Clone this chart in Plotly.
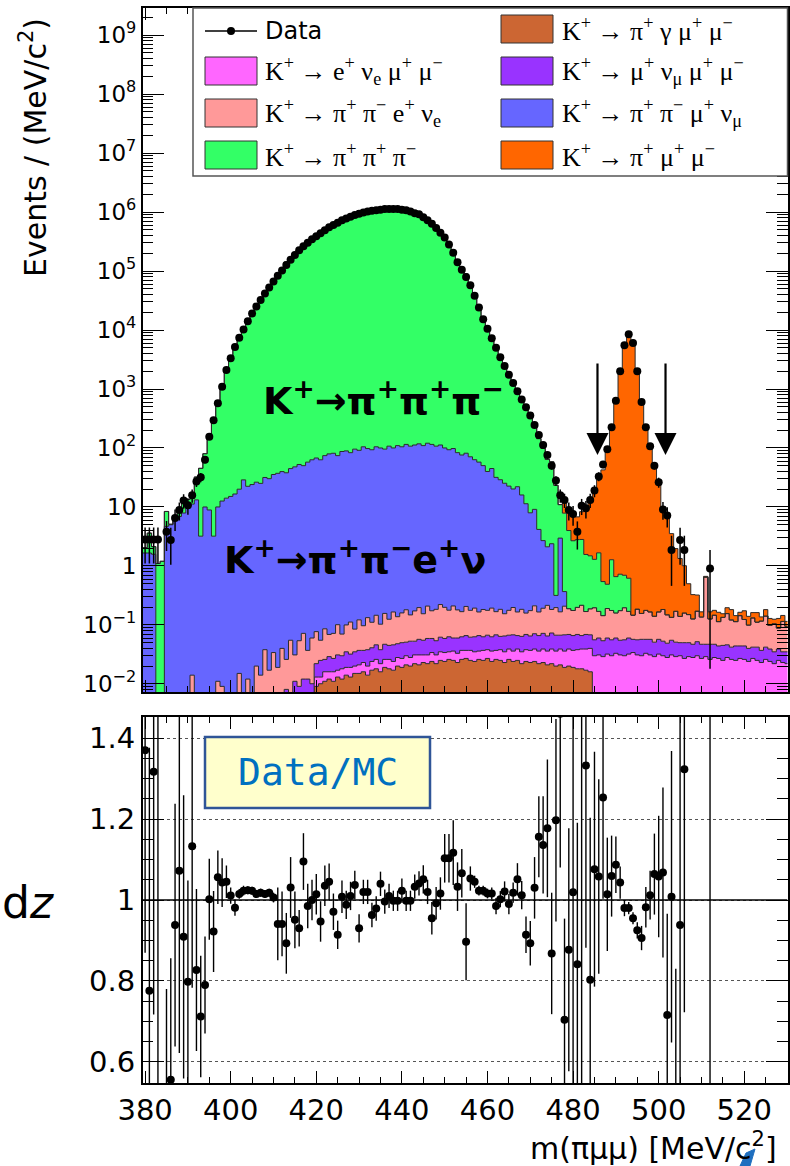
import plotly.graph_objects as go

W, H = 790, 1166

# ---------------- data (bin centres 380..530 MeV, 1 MeV bins) ----------------
centers = list(range(380, 531))

brown = [  # K+ -> pi+ gamma mu+ mu-
    0, 0, 0, 0, 0, 0, 0, 0, 0, 0,
    0, 0, 0, 0, 0, 0, 0, 0, 0, 0,
    0, 0, 0, 0, 0, 0, 0, 0, 0, 0,
    0, 0, 0, 0, 0, 0, 0, 0, 0, 0,
    .009, .010, .011, .012, .011, .013, .012, .014, .013, .015,
    .015, .016, .014, .017, .018, .016, .019, .018, .017, .020,
    .019, .021, .020, .022, .021, .023, .022, .024, .022, .025,
    .024, .026, .025, .023, .026, .027, .025, .024, .026, .025,
    .027, .024, .026, .025, .023, .026, .024, .025, .022, .024,
    .023, .024, .022, .023, .021, .022, .020, .021, .019, .020,
    .019, .018, .018, .017, .016, 0, 0, 0, 0, 0,
    0, 0, 0, 0, 0, 0, 0, 0, 0, 0,
    0, 0, 0, 0, 0, 0, 0, 0, 0, 0,
    0, 0, 0, 0, 0, 0, 0, 0, 0, 0,
    0, 0, 0, 0, 0, 0, 0, 0, 0, 0, 0,
]
magenta = [  # K+ -> e+ nu_e mu+ mu-
    0, 0, 0, 0, 0, 0, 0, 0, 0, 0,
    0, 0, 0, 0, 0, 0, 0, 0, 0, 0,
    0, 0, 0, 0, 0, 0, 0, 0, 0, 0,
    0, 0, 0, 0, 0, .002, .003, .002, .004, .003,
    .004, .003, .005, .004, .005, .004, .006, .005, .006, .005,
    .006, .007, .006, .007, .008, .006, .007, .008, .007, .008,
    .008, .009, .008, .009, .010, .008, .009, .010, .009, .010,
    .010, .009, .011, .010, .011, .010, .012, .011, .010, .012,
    .011, .012, .011, .013, .012, .013, .012, .014, .013, .014,
    .014, .015, .014, .016, .015, .017, .016, .018, .017, .019,
    .018, .020, .021, .022, .024, .030, .031, .029, .032, .030,
    .033, .031, .030, .032, .034, .031, .030, .033, .031, .029,
    .032, .030, .028, .031, .029, .030, .027, .029, .028, .030,
    .027, .029, .026, .028, .027, .025, .028, .026, .025, .027,
    .026, .024, .027, .025, .023, .026, .024, .022, .025, .023, .022,
]
purple = [  # K+ -> mu+ nu_mu mu+ mu-
    0, 0, 0, 0, 0, 0, 0, 0, 0, 0,
    0, 0, 0, 0, 0, 0, 0, 0, 0, 0,
    0, 0, 0, 0, 0, .004, 0, .006, .003, .005,
    .004, .007, 0, .008, .005, .009, .006, .010, .008, .007,
    .009, .012, .010, .013, .011, .014, .012, .016, .013, .015,
    .016, .014, .018, .017, .020, .016, .021, .019, .022, .020,
    .023, .021, .025, .022, .026, .024, .028, .025, .023, .027,
    .025, .028, .024, .027, .026, .029, .025, .028, .030, .026,
    .029, .027, .031, .026, .030, .028, .032, .027, .029, .031,
    .028, .032, .030, .033, .029, .034, .031, .028, .032, .030,
    .029, .031, .027, .030, .028, .026, .029, .025, .028, .026,
    .027, .024, .026, .028, .023, .025, .027, .024, .026, .022,
    .025, .023, .021, .024, .022, .020, .023, .021, .019, .022,
    .020, .018, .021, .019, .017, .020, .018, .016, .019, .017,
    .018, .016, .015, .017, .014, .016, .015, .013, .014, .012, .013,
]
pink = [  # K+ -> pi+ pi- e+ nu_e
    0, 0, 0, 0, 0, 0, 0, 0, 0, 0,
    0, .014, 0, 0, 0, 0, 0, .011, .009, 0,
    0, 0, .015, 0, .012, 0, .020, .008, .035, .012,
    .03, .012, .04, .018, .05, .02, .045, .06, .025, .05,
    .055, .03, .06, .04, .045, .07, .04, .065, .08, .05,
    .085, .06, .095, .07, .10, .065, .11, .08, .12, .09,
    .11, .13, .095, .12, .14, .10, .15, .115, .13, .16,
    .14, .115, .15, .12, .105, .14, .115, .13, .10, .12,
    .11, .13, .10, .12, .09, .11, .13, .10, .12, .09,
    .11, .14, .10, .12, .15, .11, .13, .10, .14, .12,
    .11, .13, .15, .10, .12, .14, .11, .09, .13, .12,
    .10, .12, .14, .11, .09, .13, .10, .12, .11, .09,
    .11, .13, .10, .08, .12, .09, .11, .10, .08, .12,
    .09, .60, .08, .10, .07, .09, .11, .08, .07, .10,
    .08, .06, .09, .07, .08, .10, .06, .07, .05, .08, .06,
]
blue = [  # K+ -> pi+ pi- mu+ nu_mu
    1.66, 1.66, 1.58, 0, 0, 4.7, 5.0, 6.0, 6.9, 7.9,
    9.5, 11.2, 13.2, 3.2, 10.0, 8.9, 3.2, 10.0, 12.6, 14.1,
    15.1, 16.6, 20.0, 28.8, 22.4, 24.0, 26.3, 25.1, 31.6, 30.2,
    35.5, 37.2, 39.8, 38.0, 44.7, 47.9, 52.5, 50.1, 57.5, 63.1,
    67.6, 63.1, 74.1, 79.4, 81.3, 74.1, 87.1, 89.1, 83.2, 95.5,
    91.2, 104.7, 97.7, 93.3, 104.7, 100, 95.5, 107.2, 100, 109.6,
    104.7, 114.8, 107.2, 112.2, 117.5, 109.6, 120.2, 114.8, 107.2, 112.2,
    100, 93.3, 97.7, 83.2, 75.9, 81.3, 70.8, 63.1, 57.5, 50.1,
    39.8, 44.7, 31.6, 28.8, 25.1, 22.4, 20.0, 21.9, 15.8, 11.2,
    7.8, 8.9, 4.0, 2.5, 1.9, 2.2, 0.12, 2.8, 0.16, 0,
    0, 0, 0, 0, 0, 0, 0, 0, 0, 0,
    0, 0, 0, 0, 0, 0, 0, 0, 0, 0,
    0, 0, 0, 0, 0, 0, 0, 0, 0, 0,
    0, 0, 0, 0, 0, 0, 0, 0, 0, 0,
    0, 0, 0, 0, 0, 0, 0, 0, 0, 0, 0,
]
green = [  # K+ -> pi+ pi+ pi-
    0.38, 1.95, 0.55, 1.1, 1.2, 3.7, 0.1, 0.9, 1.4, 6.3,
    3.9, 2.8, 19, 42, 70, 146, 317, 535, 1038, 1985,
    3260, 5210, 7280, 9970, 13770, 18600, 24720, 31760, 41040, 51520,
    65640, 88350, 108710, 140940, 150180, 195760, 240670, 240160, 306540, 346670,
    383610, 460880, 473140, 525800, 620470, 722790, 718600, 785590, 823450, 859360,
    1003400, 957970, 1003130, 1087270, 1094400, 1054210, 1126430, 1110800, 1124170, 1124160,
    1071720, 1073550, 1025240, 924370, 875960, 773280, 710110, 660570, 541260, 439540,
    336740, 255430, 182690, 136660, 98150, 88470, 54580, 36320, 23390, 14750,
    10270, 7090, 5060, 3430, 2380, 1730, 1220, 846, 637, 525,
    389, 229, 140, 96, 62, 56, 23, 8, 7.5, 3.8,
    2.5, 2.6, 2.6, 1.4, 1.3, 1.1, 1.5, 0.4, 0.3, 1.1,
    0.5, 0.55, 0.5, 0.45, 0, 0, 0, 0, 0, 0,
    0, 0, 0, 0, 0, 0, 0, 0, 0, 0,
    0, 0, 0, 0, 0, 0, 0, 0, 0, 0,
    0, 0, 0, 0, 0, 0, 0, 0, 0, 0, 0,
]
orange = [  # K+ -> pi+ mu+ mu-
    0, 0, 0, 0, 0, 0, 0, 0, 0, 0,
    0, 0, 0, 0, 0, 0, 0, 0, 0, 0,
    0, 0, 0, 0, 0, 0, 0, 0, 0, 0,
    0, 0, 0, 0, 0, 0, 0, 0, 0, 0,
    0, 0, 0, 0, 0, 0, 0, 0, 0, 0,
    0, 0, 0, 0, 0, 0, 0, 0, 0, 0,
    0, 0, 0, 0, 0, 0, 0, 0, 0, 0,
    0, 0, 0, 0, 0, 0, 0, 0, 0, 0,
    0, 0, 0, 0, 0, 0, 0, 0, 0, 0,
    0, 0, 0, 0, 0, 0, 0, 0, 4, 4.5,
    4.5, 4.0, 5.5, 7, 11, 16, 27, 42, 92, 210,
    580, 1900, 5600, 8700, 6300, 2150, 660, 228, 106, 47,
    25, 10, 7, 3.4, 1.8, 1.2, 0.85, 0.35, 0.2, 0.15,
    0.03, .02, .04, .03, .05, .02, .04, .06, .03, .02,
    .05, .04, .03, .05, .02, .04, .03, .02, .04, .03, .02,
]
data = [
    2.8, 2.8, 2.8, 2.8, None, 3.8, 2.75, 6.5, 8.9, 12.9,
    10.7, 15.8, 27, 32, 63, 155, 295, 575, 1096, 2089,
    3311, 5129, 7413, 10230, 14130, 19050, 25120, 32360, 41690, 52480,
    66070, 83180, 102300, 125900, 154900, 186200, 223900, 263000, 302000, 346700,
    389000, 436500, 489800, 549500, 602600, 660700, 724400, 776200, 831800, 891300,
    933300, 977200, 1023000, 1047000, 1072000, 1096000, 1122000, 1122000, 1122000, 1122000,
    1096000, 1072000, 1023000, 955000, 912000, 812800, 724400, 631000, 537000, 446700,
    371500, 281800, 204200, 141300, 104700, 79430, 57540, 38020, 23990, 15140,
    10470, 7244, 5012, 3467, 2455, 1738, 1259, 912, 661, 490,
    355, 245, 166, 112, 76, 50, 28, 15.8, 13.2, 8.9,
    7.6, 3.8, 10.5, 9.5, 13.2, 19, 33, 52.5, 95.5, 224,
    631, 1995, 5495, 8511, 6026, 1995, 603, 224, 107, 50,
    26.3, 9.1, 7.2, 1.86, None, 2.75, 1.86, None, None, None,
    None, None, 0.91, None, None, None, None, None, None, None,
    None, None, None, None, None, None, None, None, None, None, None,
]
data_err = [
    1.7, 1.7, 1.7, 1.7, 0, 2.0, 1.7, 2.6, 3.0, 3.6,
    3.3, 4.0, 5.2, 5.7, 8, 12, 17, 24, 33, 46,
    0, 0, 0, 0, 0, 0, 0, 0, 0, 0,
    0, 0, 0, 0, 0, 0, 0, 0, 0, 0,
    0, 0, 0, 0, 0, 0, 0, 0, 0, 0,
    0, 0, 0, 0, 0, 0, 0, 0, 0, 0,
    0, 0, 0, 0, 0, 0, 0, 0, 0, 0,
    0, 0, 0, 0, 0, 0, 0, 0, 0, 0,
    0, 0, 0, 0, 0, 0, 0, 0, 0, 0,
    19, 16, 13, 11, 9, 7, 5.3, 4.0, 3.6, 3.0,
    2.8, 1.9, 3.2, 3.1, 3.6, 4.4, 5.7, 7.2, 9.8, 15,
    25, 45, 74, 92, 78, 45, 25, 15, 10, 7,
    5.1, 3.0, 2.7, 1.4, 0, 1.7, 1.4, 0, 0, 0,
    0, 0, 0.95, 0, 0, 0, 0, 0, 0, 0,
    0, 0, 0, 0, 0, 0, 0, 0, 0, 0, 0,
]
ratio = [
    1.37, 0.776, 1.317, 2.5, None, 0.45, 0.556, 0.938, 1.072, 0.909,
    0.798, 1.133, 0.827, 0.712, 0.79, 1.002, 0.922, 1.056, 1.043, 1.045,
    1.011, 0.981, 1.015, 1.023, 1.024, 1.023, 1.015, 1.018, 1.015, 1.018,
    1.006, 0.941, 0.941, 0.893, 1.031, 0.951, 0.93, 1.095, 0.985, 1.0,
    1.014, 0.947, 1.035, 1.045, 0.971, 0.914, 1.008, 0.988, 1.010, 1.037,
    0.930, 1.02, 1.02, 0.963, 0.979, 1.04, 0.996, 1.01, 0.998, 0.998,
    1.023, 0.998, 0.998, 1.033, 1.041, 1.051, 1.02, 0.955, 0.992, 1.016,
    1.103, 1.103, 1.117, 1.033, 1.066, 0.897, 1.053, 1.045, 1.023, 1.023,
    1.016, 1.016, 0.985, 1.002, 1.021, 0.99, 1.018, 1.051, 1.012, 0.914,
    0.893, 1.03, 1.156, 1.136, 1.177, 0.868, 1.197, 1.46, 0.704, 0.877,
    1.019, 0.841, 1.9, 1.332, 0.803, 1.076, 1.058, 1.253, 1.014, 1.059,
    1.087, 1.043, 0.98, 0.98, 0.955, 0.925, 0.906, 0.982, 1.012, 1.064,
    1.058, 1.068, 0.716, 1.008, 0.3, 0.938, 1.323, None, None, None,
    None, None, 3.0, None, None, None, None, None, None, None,
    None, None, None, None, None, None, None, None, None, None, None,
]
ratio_err = [
    .5, .6, .6, 2.0, 0, .33, .30, .30, .45, .35,
    .25, .35, .20, .15, .12, .10, .10, .066, .06, .04,
    .02, .02, .012, .012, .01, .01, .01, .01, .01, .01,
    .012, .09, .08, .075, .075, .07, .045, .07, .055, .05,
    .05, .05, .05, .045, .045, .035, .04, .035, .035, .035,
    .035, .03, .03, .03, .03, .03, .03, .03, .025, .025,
    .03, .025, .025, .03, .03, .035, .03, .04, .04, .04,
    .06, .06, .08, .06, .06, .095, .03, .015, .012, .012,
    .012, .015, .02, .02, .025, .025, .025, .04, .035, .045,
    .055, .076, .10, .12, .17, .15, .25, .38, .25, .3,
    .5, .35, 1.4, .45, .4, .29, .24, .25, .14, .10,
    .07, .04, .02, .015, .015, .02, .03, .05, .06, .10,
    .15, .21, .25, .36, .53, .6, .6, 0, 0, 0,
    0, 0, 2.6, 0, 0, 0, 0, 0, 0, 0,
    0, 0, 0, 0, 0, 0, 0, 0, 0, 0, 0,
]

x_ticks = [380, 400, 420, 440, 460, 480, 500, 520]
ratio_ticks = [0.6, 0.8, 1.0, 1.2, 1.4]
ratio_ticktext = ["0.6", "0.8", "1", "1.2", "1.4"]
log_ticks = [1e-2, 1e-1, 1, 10, 1e2, 1e3, 1e4, 1e5, 1e6, 1e7, 1e8, 1e9]
log_ticktext = ["10<sup>−2</sup>", "10<sup>−1</sup>", "1", "10", "10<sup>2</sup>",
                "10<sup>3</sup>", "10<sup>4</sup>", "10<sup>5</sup>", "10<sup>6</sup>",
                "10<sup>7</sup>", "10<sup>8</sup>", "10<sup>9</sup>"]

for arr in (brown, magenta, purple, pink, blue, green, orange, data, data_err, ratio, ratio_err):
    assert len(arr) == len(centers), len(arr)

# ---------------- geometry helpers ----------------
def px(x):
    return x / W

def py(y):
    return 1 - y / H

X0, X1 = 142.7, 787.5
TOP_Y0, TOP_Y1 = 8, 692
BOT_Y0, BOT_Y1 = 717, 1083
XRANGE = [379.44, 530.1]
SANS = "DejaVu Sans"
SERIF = "Liberation Serif"

edges = [c - 0.5 for c in centers] + [centers[-1] + 0.5]

layers = [
    (brown, "#CC6633"),
    (magenta, "#FF66FF"),
    (purple, "#9933FF"),
    (pink, "#FF9999"),
    (blue, "#6666FF"),
    (green, "#33FF66"),
    (orange, "#FF6600"),
]

fig = go.Figure()
floor = 1e-4
cum = [floor] * len(centers)
fig.add_trace(go.Scatter(x=edges, y=cum + [cum[-1]], mode="lines", line_shape="hv",
                         line=dict(width=0), hoverinfo="skip", showlegend=False,
                         xaxis="x", yaxis="y"))
for vals, col in layers:
    cum = [c + v for c, v in zip(cum, vals)]
    fig.add_trace(go.Scatter(x=edges, y=cum + [cum[-1]], mode="lines", line_shape="hv",
                             line=dict(color="#2a2a2a", width=1), fill="tonexty",
                             fillcolor=col, hoverinfo="skip", showlegend=False,
                             xaxis="x", yaxis="y"))

# data points (top)
dx, dy, de, dlo = [], [], [], []
for c, v, e in zip(centers, data, data_err):
    if v is None:
        continue
    dx.append(c)
    dy.append(v)
    de.append(e)
    dlo.append(min(e, 0.98 * v))
fig.add_trace(go.Scatter(x=dx, y=dy, mode="markers", xaxis="x", yaxis="y",
                         marker=dict(color="black", size=8),
                         error_y=dict(type="data", array=de, arrayminus=dlo,
                                      color="black", thickness=1.5, width=0),
                         showlegend=False))

# ratio points (bottom)
rx, ry, re = [], [], []
for c, v, e in zip(centers, ratio, ratio_err):
    if v is None:
        continue
    rx.append(c)
    ry.append(v)
    re.append(e)
fig.add_trace(go.Scatter(x=rx, y=ry, mode="markers", xaxis="x2", yaxis="y2",
                         marker=dict(color="black", size=8),
                         error_y=dict(type="data", array=re, color="black",
                                      thickness=1.4, width=0),
                         showlegend=False))

# ---------------- axes ----------------
minor_x = [v for v in range(380, 531, 5) if v not in x_ticks]
minor_log = [j * 10 ** k for k in range(-3, 10) for j in range(2, 10)]
minor_ratio = [round(0.55 + 0.05 * i, 2) for i in range(19)]
minor_ratio = [v for v in minor_ratio if v not in ratio_ticks]

common_x = dict(range=XRANGE, domain=[px(X0), px(X1)], showline=True, linecolor="black",
                linewidth=1.5, mirror="ticks", ticks="inside", tickvals=x_ticks,
                ticklen=12, tickwidth=1.2, tickcolor="black", showgrid=False,
                zeroline=False, automargin=False,
                minor=dict(tickvals=minor_x, ticks="inside", ticklen=6,
                           tickcolor="black", tickwidth=1))

fig.update_layout(
    width=W, height=H, margin=dict(l=0, r=0, t=0, b=0, autoexpand=False),
    paper_bgcolor="white", plot_bgcolor="white", showlegend=False,
    xaxis=dict(common_x, anchor="y", showticklabels=False),
    yaxis=dict(type="log", range=[-2.136, 9.458], domain=[py(TOP_Y1), py(TOP_Y0)],
               anchor="x", showline=True, linecolor="black", linewidth=1.5,
               mirror="ticks", ticks="inside", tickvals=log_ticks, ticktext=log_ticktext,
               ticklen=22, tickwidth=1.2, tickcolor="black", showgrid=False,
               zeroline=False, automargin=False,
               tickfont=dict(family=SANS, size=23, color="black"),
               minor=dict(tickvals=minor_log, ticks="inside", ticklen=11,
                          tickcolor="black", tickwidth=1)),
    xaxis2=dict(common_x, anchor="y2", showticklabels=True,
                tickfont=dict(family=SANS, size=29, color="black")),
    yaxis2=dict(range=[0.548, 1.452], domain=[py(BOT_Y1), py(BOT_Y0)], anchor="x2",
                showline=True, linecolor="black", linewidth=1.5, mirror="ticks",
                ticks="inside", tickvals=ratio_ticks, ticktext=ratio_ticktext,
                ticklen=22, tickwidth=1.2, tickcolor="black",
                showgrid=True, gridcolor="#555555", griddash="dot", gridwidth=1,
                zeroline=False, automargin=False,
                tickfont=dict(family=SANS, size=29, color="black"),
                minor=dict(tickvals=minor_ratio, ticks="inside", ticklen=11,
                           tickcolor="black", tickwidth=1)),
)

shapes = []
ann = []

# unity line in ratio panel
shapes.append(dict(type="line", xref="x2", yref="y2", x0=XRANGE[0], x1=XRANGE[1],
                   y0=1, y1=1, line=dict(color="black", width=1.6)))

# legend box
shapes.append(dict(type="rect", xref="paper", yref="paper", x0=px(193), x1=px(787.5),
                   y0=py(176), y1=py(8), line=dict(color="#555555", width=1.5),
                   fillcolor="white", layer="above"))
legend_rows = [31, 71, 113, 155]
col1_items = [
    ("#FF66FF", "K<sup>+</sup> → e<sup>+</sup> ν<sub>e</sub> μ<sup>+</sup> μ<sup>−</sup>"),
    ("#FF9999", "K<sup>+</sup> → π<sup>+</sup> π<sup>−</sup> e<sup>+</sup> ν<sub>e</sub>"),
    ("#33FF66", "K<sup>+</sup> → π<sup>+</sup> π<sup>+</sup> π<sup>−</sup>"),
]
col2_items = [
    ("#CC6633", "K<sup>+</sup> → π<sup>+</sup> γ μ<sup>+</sup> μ<sup>−</sup>"),
    ("#9933FF", "K<sup>+</sup> → μ<sup>+</sup> ν<sub>μ</sub> μ<sup>+</sup> μ<sup>−</sup>"),
    ("#6666FF", "K<sup>+</sup> → π<sup>+</sup> π<sup>−</sup> μ<sup>+</sup> ν<sub>μ</sub>"),
    ("#FF6600", "K<sup>+</sup> → π<sup>+</sup> μ<sup>+</sup> μ<sup>−</sup>"),
]
# Data entry
shapes.append(dict(type="line", xref="paper", yref="paper", x0=px(205), x1=px(257),
                   y0=py(legend_rows[0]), y1=py(legend_rows[0]),
                   line=dict(color="black", width=1.5), layer="above"))
shapes.append(dict(type="circle", xref="paper", yref="paper", x0=px(227), x1=px(235),
                   y0=py(legend_rows[0] + 4), y1=py(legend_rows[0] - 4),
                   fillcolor="black", line=dict(color="black", width=0), layer="above"))
ann.append(dict(x=px(263), y=py(legend_rows[0]), xref="paper", yref="paper",
                text="Data", showarrow=False, xanchor="left", yanchor="middle",
                font=dict(family=SANS, size=24, color="black")))
for (col, txt), yy in zip(col1_items, legend_rows[1:]):
    shapes.append(dict(type="rect", xref="paper", yref="paper", x0=px(205), x1=px(257),
                       y0=py(yy + 14), y1=py(yy - 14), fillcolor=col,
                       line=dict(color="#333333", width=1), layer="above"))
    ann.append(dict(x=px(263), y=py(yy), xref="paper", yref="paper", text=txt,
                    showarrow=False, xanchor="left", yanchor="middle",
                    font=dict(family=SERIF, size=26, color="black")))
for (col, txt), yy in zip(col2_items, [29, 71, 113, 155]):
    shapes.append(dict(type="rect", xref="paper", yref="paper", x0=px(501), x1=px(553),
                       y0=py(yy + 14), y1=py(yy - 14), fillcolor=col,
                       line=dict(color="#333333", width=1), layer="above"))
    ann.append(dict(x=px(560), y=py(yy), xref="paper", yref="paper", text=txt,
                    showarrow=False, xanchor="left", yanchor="middle",
                    font=dict(family=SERIF, size=26, color="black")))

# in-plot labels
ann.append(dict(x=px(383), y=py(398), xref="paper", yref="paper",
                text="<b>K<sup>+</sup>→π<sup>+</sup>π<sup>+</sup>π<sup>−</sup></b>",
                showarrow=False, font=dict(family=SANS, size=38, color="black")))
ann.append(dict(x=px(355), y=py(557), xref="paper", yref="paper",
                text="<b>K<sup>+</sup>→π<sup>+</sup>π<sup>−</sup>e<sup>+</sup>ν</b>",
                showarrow=False, font=dict(family=SANS, size=38, color="black")))

# signal window arrows
for xa in (485.7, 501.6):
    ann.append(dict(x=xa, y=1.881, xref="x", yref="y", text="", showarrow=True,
                    ax=0, ay=-93, arrowhead=2, arrowsize=2.0, arrowwidth=2.2,
                    arrowcolor="black"))

# Data/MC box
shapes.append(dict(type="rect", xref="paper", yref="paper", x0=px(205), x1=px(430),
                   y0=py(808), y1=py(737), fillcolor="#FFFFCC",
                   line=dict(color="#2F5597", width=2.5), layer="above"))
ann.append(dict(x=px(317.5), y=py(772), xref="paper", yref="paper", text="Data/MC",
                showarrow=False, font=dict(family="DejaVu Sans Mono", size=38, color="#0070C0")))

# axis titles
ann.append(dict(x=px(33), y=py(148), xref="paper", yref="paper",
                text="Events / (MeV/c<sup>2</sup>)", textangle=-90, showarrow=False,
                xanchor="center", yanchor="middle",
                font=dict(family=SANS, size=30, color="black")))
ann.append(dict(x=px(779), y=py(1146), xref="paper", yref="paper",
                text="m(πμμ) [MeV/c<sup>2</sup>]", showarrow=False, xanchor="right",
                yanchor="middle", font=dict(family=SANS, size=30, color="black")))
ann.append(dict(x=0, y=py(902), xref="paper", yref="paper", text="d<i>z</i>",
                showarrow=False, xanchor="left", yanchor="middle",
                font=dict(family=SANS, size=44, color="black")))

# small blue mark at the lower right corner
shapes.append(dict(type="path", xref="paper", yref="paper",
                   path="M {},{} L {},{} L {},{} L {},{} Z".format(
                       px(740), py(1166), px(746), py(1153), px(755), py(1149),
                       px(750), py(1166)),
                   fillcolor="#1F6FBF", line=dict(color="#1F6FBF", width=1)))

fig.update_layout(shapes=shapes, annotations=ann)
fig.write_html("out.html")
